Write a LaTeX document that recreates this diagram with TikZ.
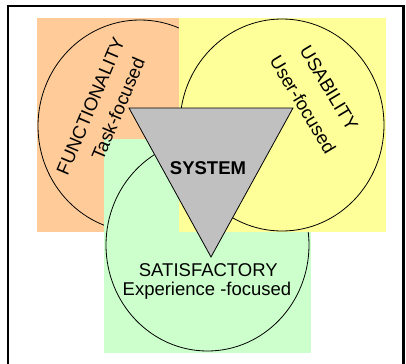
\documentclass[tikz,border=0pt]{standalone}
\usepackage{fontspec}
\setmainfont{Liberation Sans}
\definecolor{orangebg}{HTML}{FFCC99}
\definecolor{yellowbg}{HTML}{FFFF99}
\definecolor{greenbg}{HTML}{CCFFCC}
\definecolor{sysgray}{HTML}{C0C0C0}
\tikzset{
  ring/.style={draw=black, line width=0.8bp},
  lbl/.style={inner sep=0pt, font=\fontsize{18.5bp}{22bp}\selectfont},
  boldlbl/.style={lbl, font=\fontsize{18.5bp}{22bp}\selectfont\bfseries},
  frameline/.style={draw=black, line width=2.4bp},
}
\begin{document}
\begin{tikzpicture}[x=1bp, y=-1bp]
\useasboundingbox (0,0) rectangle (406,364);
% orange group
\fill[orangebg] (37,18) rectangle (179,232);
\draw[ring] (140,126) ellipse [x radius=102, y radius=106];
% green group
\fill[greenbg] (104,139) rectangle (311,353);
\draw[ring] (207.5,245) ellipse [x radius=101.5, y radius=106];
% yellow group
\fill[yellowbg] (179,18) rectangle (386,232);
\draw[ring] (282,125) ellipse [x radius=102, y radius=106];
% system triangle
\coordinate (tl) at (129,108);
\coordinate (tr) at (293,108);
\coordinate (tb) at (211,257);
\filldraw[fill=sysgray, draw=black, line width=0.8bp] (tl) -- (tr) -- (tb) -- cycle;
% texts
\node[boldlbl] (sys) at (208,168.3) {SYSTEM};
\node[lbl, rotate=67] (func) at (90.5,106) {FUNCTIONALITY};
\node[lbl, rotate=67] (task) at (118,109) {Task-focused};
\node[lbl, rotate=-59] (usab) at (329,88) {USABILITY};
\node[lbl, rotate=-59] (user) at (303,104.5) {User-focused};
\node[lbl] (satis) at (208.3,270.3) {SATISFACTORY};
\node[lbl, anchor=base] (exper) at (207,295.7) {Experience -focused};
% frame
\draw[frameline] (7.8,370) -- (7.8,6) -- (403.5,6) -- (403.5,370);
\end{tikzpicture}
\end{document}
